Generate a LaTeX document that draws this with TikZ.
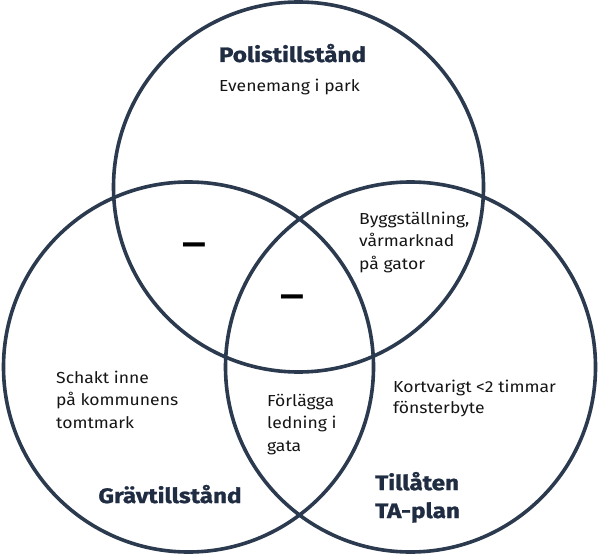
\documentclass[tikz,border=0pt]{standalone}
\usepackage{fontspec}
\setmainfont{Fira Sans}
\newfontfamily\ttlfont{Fira Sans}[FakeStretch=1.16,FakeBold=1.2,UprightFont=* Bold]
\newfontfamily\bodyfont{Fira Sans}[FakeStretch=1.1]
\definecolor{ring}{HTML}{2B3A4E}
\definecolor{titlec}{HTML}{1F2C42}
\definecolor{bodyc}{HTML}{151515}
\begin{document}
\begin{tikzpicture}[x=1bp,y=-1bp,
  ring/.style={draw=ring,line width=3.6bp},
  ttl/.style={text=titlec,font=\fontsize{21}{28}\ttlfont,inner sep=0pt},
  body/.style={text=bodyc,font=\fontsize{16}{22.5}\bodyfont,inner sep=0pt,align=left},
  dashmark/.style={text=black,font=\fontsize{34}{34}\selectfont\bfseries,inner sep=0pt}]
\useasboundingbox (0,0) rectangle (599,555);
\node[ring,circle,minimum size=370bp,inner sep=0pt] (top) at (298.5,187) {};
\node[ring,circle,minimum size=370bp,inner sep=0pt] (left) at (188.5,367) {};
\node[ring,circle,minimum size=370bp,inner sep=0pt] (right) at (410.5,367) {};
\node[ttl,anchor=base] (polis) at (292.5,62) {Polistillstånd};
\node[body,anchor=base] (event) at (289.5,92) {Evenemang i park};
\node[dashmark] (d1) at (194,249) {\scalebox{1.35}[1]{–}};
\node[dashmark] (d2) at (292,301) {\scalebox{1.35}[1]{–}};
\node[body,anchor=base west] (bygg) at (359,269) {Byggställning,\\vårmarknad\\på gator};
\node[body,anchor=base west] (schakt) at (56,428) {Schakt inne\\på kommunens\\tomtmark};
\node[body,anchor=base west] (forl) at (267,451) {Förlägga\\ledning i\\gata};
\node[body,anchor=base west,font=\fontsize{16}{21.5}\bodyfont] (kort) at (393,413.5) {Kortvarigt <2 timmar\\fönsterbyte};
\node[ttl,anchor=base] (grav) at (170,503) {Grävtillstånd};
\node[ttl,anchor=base west,align=left] (till) at (375,518) {Tillåten\\TA-plan};
\end{tikzpicture}
\end{document}
